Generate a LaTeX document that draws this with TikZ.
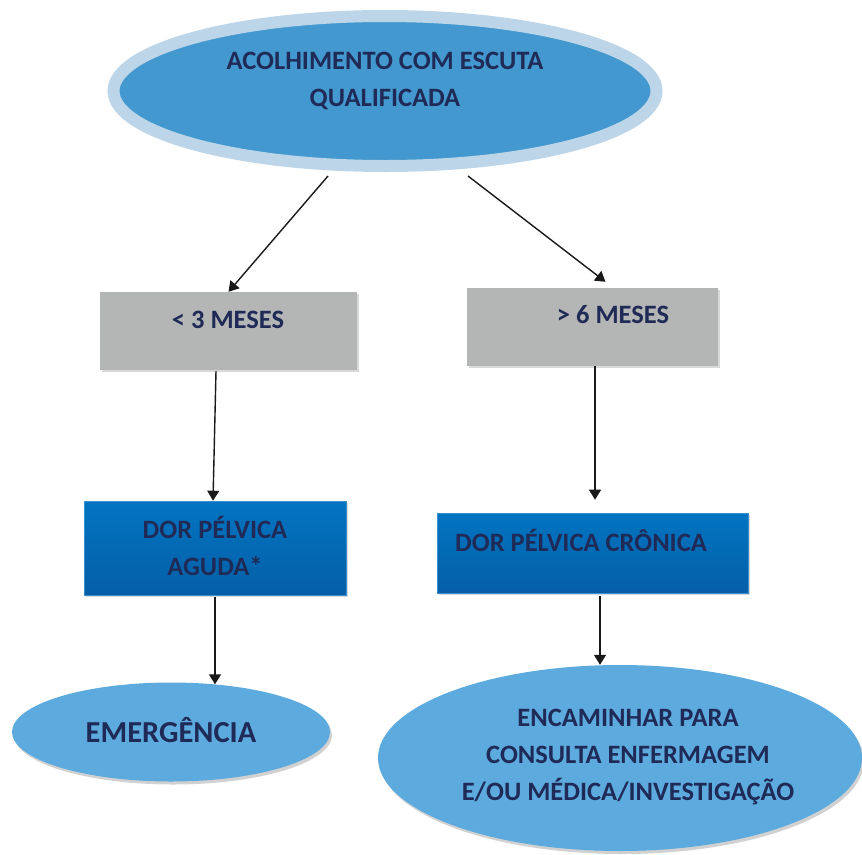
\documentclass[tikz,border=0pt]{standalone}
\usepackage{fontspec}
\setmainfont{Carlito}
\usetikzlibrary{shapes.geometric,shadows,calc,arrows.meta}
\definecolor{txt}{HTML}{1F2A56}
\definecolor{ringc}{HTML}{BDD5E8}
\definecolor{topfill}{HTML}{4399CF}
\definecolor{grayfill}{HTML}{B4B5B5}
\definecolor{bluetop}{HTML}{0274C2}
\definecolor{bluebot}{HTML}{055FA6}
\definecolor{blueedge}{HTML}{3A8FD0}
\definecolor{ellfill}{HTML}{5DAADF}
\tikzset{
  graybox/.style={rectangle, fill=grayfill, inner sep=0pt,
    drop shadow={shadow xshift=2pt, shadow yshift=-2pt, fill=black!25, opacity=0.6}},
  bluebox/.style={rectangle, top color=bluetop, bottom color=bluebot, draw=blueedge, line width=0.6pt, inner sep=0pt,
    drop shadow={shadow xshift=2pt, shadow yshift=-2pt, fill=black!25, opacity=0.6}},
  endell/.style={ellipse, fill=ellfill, inner sep=0pt,
    drop shadow={shadow xshift=2pt, shadow yshift=-3pt, fill=black!30, opacity=0.6}},
  lbl/.style={font=\fontsize{26.5}{37}\selectfont\bfseries, text=txt, align=center, inner sep=0pt},
  arr/.style={line width=1.4pt, draw=black!90, -{Triangle[length=10pt,width=12pt]}}
}
\begin{document}
\begin{tikzpicture}[x=1pt,y=-1pt]
\useasboundingbox (0,0) rectangle (862,854);
% nodes
\node[ellipse, minimum width=543pt, minimum height=150pt, fill=topfill, draw=ringc, line width=12pt, inner sep=0pt] (top) at (385,91) {};
\node[graybox, minimum width=257pt, minimum height=78pt] (b1) at (228.5,331) {};
\node[graybox, minimum width=251pt, minimum height=78pt] (b2) at (592.5,327) {};
\node[bluebox, minimum width=262pt, minimum height=94pt] (b3) at (215,548) {};
\node[bluebox, minimum width=311pt, minimum height=80pt] (b4) at (592.5,553) {};
\node[endell, minimum width=318pt, minimum height=99pt] (em) at (171,732) {};
\node[endell, minimum width=484pt, minimum height=186pt] (enc) at (620,758) {};
% texts
\node[lbl] (t0) at (385,81) {ACOLHIMENTO COM ESCUTA\\QUALIFICADA};
\node[lbl] (t1) at (228,320) {< 3 MESES};
\node[lbl] (t2) at (613,315) {> 6 MESES};
\node[lbl] (t3) at (215,546) {DOR PÉLVICA\\AGUDA*};
\node[lbl] (t4) at (581,540) {DOR PÉLVICA CRÔNICA};
\node[lbl, font=\fontsize{30.5}{37}\selectfont\bfseries] (t5) at (171,730) {EMERGÊNCIA};
\node[lbl] (t6) at (628,757) {ENCAMINHAR PARA\\CONSULTA ENFERMAGEM\\E/OU MÉDICA/INVESTIGAÇÃO};
% connectors
\draw[arr] ($(top.south)+(-57,4)$) -- (b1.north);
\draw[arr] ($(top.south)+(83,4)$) -- ($(b2.north)+(13,-6)$);
\draw[arr] ($(b1.south)+(-12.5,1)$) -- ($(b3.north)+(-2,0)$);
\draw[arr] ($(b2.south)+(2.5,0)$) -- ($(b4.north)+(2.5,-13)$);
\draw[arr] ($(b3.south)+(0,2)$) -- ($(em.north)+(44,2)$);
\draw[arr] ($(b4.south)+(7.5,3)$) -- ($(enc.north)+(-20,0)$);
\end{tikzpicture}
\end{document}
